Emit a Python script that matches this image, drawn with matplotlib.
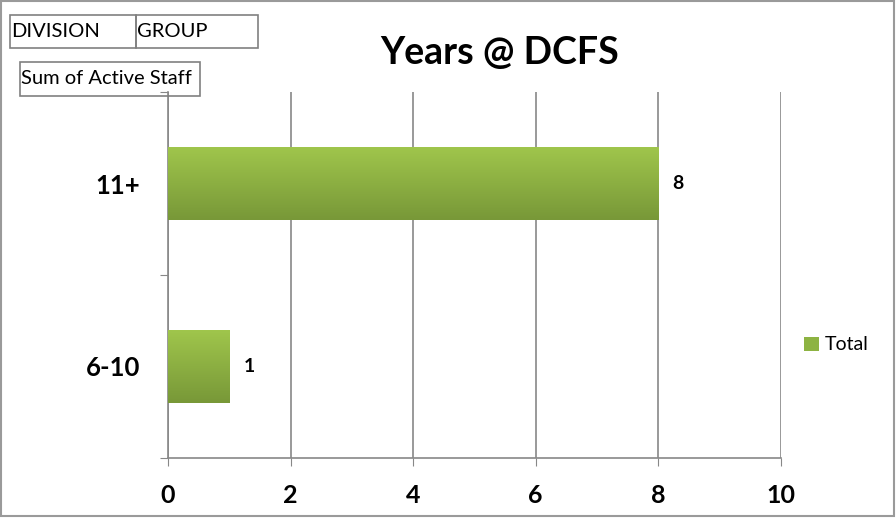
import matplotlib.pyplot as plt
import numpy as np
from matplotlib.patches import Rectangle
from matplotlib.colors import LinearSegmentedColormap

categories = ['6-10', '11+']
totals = [1, 8]
xticks = [0, 2, 4, 6, 8, 10]

plt.rcParams['font.family'] = ['Lato', 'DejaVu Sans']

fig = plt.figure(figsize=(8.96, 5.18), dpi=100)
ax = fig.add_axes([0.1875, 0.116, 0.684, 0.706])

ypos = np.arange(len(categories))
bars = ax.barh(ypos, totals, height=0.4, color='#8db342', label='Total', zorder=3)

# vertical gradient like the excel bars (light on top, darker below)
grad = np.linspace(0, 1, 100).reshape(-1, 1)
cmap = LinearSegmentedColormap.from_list('g', ['#a0c64c', '#789838'])
for b in bars:
    x0, y0 = b.get_x(), b.get_y()
    im = ax.imshow(grad, cmap=cmap, aspect='auto', origin='upper',
                   extent=[x0, x0 + b.get_width(), y0, y0 + b.get_height()], zorder=4)
    im.set_clip_path(b)

for y, v in zip(ypos, totals):
    ax.text(v + 0.23, y, str(v), va='center', ha='left', fontsize=14, fontweight='bold')

ax.set_xlim(0, 10)
ax.set_ylim(-0.5, 1.5)
ax.set_xticks(xticks)
ax.set_xticklabels([str(t) for t in xticks], fontsize=18, fontweight='bold')
ax.set_yticks([-0.5, 0.5, 1.5])
ax.set_yticklabels([])
ax.set_yticks(ypos, minor=True)
ax.set_yticklabels(categories, minor=True, fontsize=18.5, fontweight='bold')
ax.tick_params(axis='y', which='minor', length=0, pad=20)
ax.tick_params(axis='y', which='major', length=6, color='#888888')
ax.tick_params(axis='x', length=6, color='#888888', pad=13)
ax.grid(axis='x', color='#888888', linewidth=1.2, zorder=0)
for s in ['top', 'right']:
    ax.spines[s].set_visible(False)
for s in ['left', 'bottom']:
    ax.spines[s].set_color('#888888')
    ax.spines[s].set_linewidth(1.2)

fig.text(0.558, 0.898, 'Years @ DCFS', ha='center', va='center', fontsize=27, fontweight='bold')

fig.legend(handles=[bars], labels=['Total'], loc='center left', bbox_to_anchor=(0.878, 0.334),
           frameon=False, fontsize=14, handlelength=0.75, handleheight=0.75, handletextpad=0.3)

# field buttons
def field_box(x, y, w, h, text):
    fig.patches.append(Rectangle((x / 896, 1 - (y + h) / 518), w / 896, h / 518,
                                 transform=fig.transFigure, fill=False, edgecolor='#808080', linewidth=1.2))
    fig.text((x + 1) / 896, 1 - (y + h / 2) / 518, text, ha='left', va='center', fontsize=14.5)

field_box(10, 15, 126, 33, 'DIVISION')
field_box(136, 15, 122, 33, 'GROUP')
field_box(20, 62, 180, 34, 'Sum of Active Staff')

fig.patches.append(Rectangle((0.001, 0.003), 0.997, 0.995, transform=fig.transFigure,
                             fill=False, edgecolor='#9a9a9a', linewidth=1.5))

fig.savefig('out.png', dpi=100)
